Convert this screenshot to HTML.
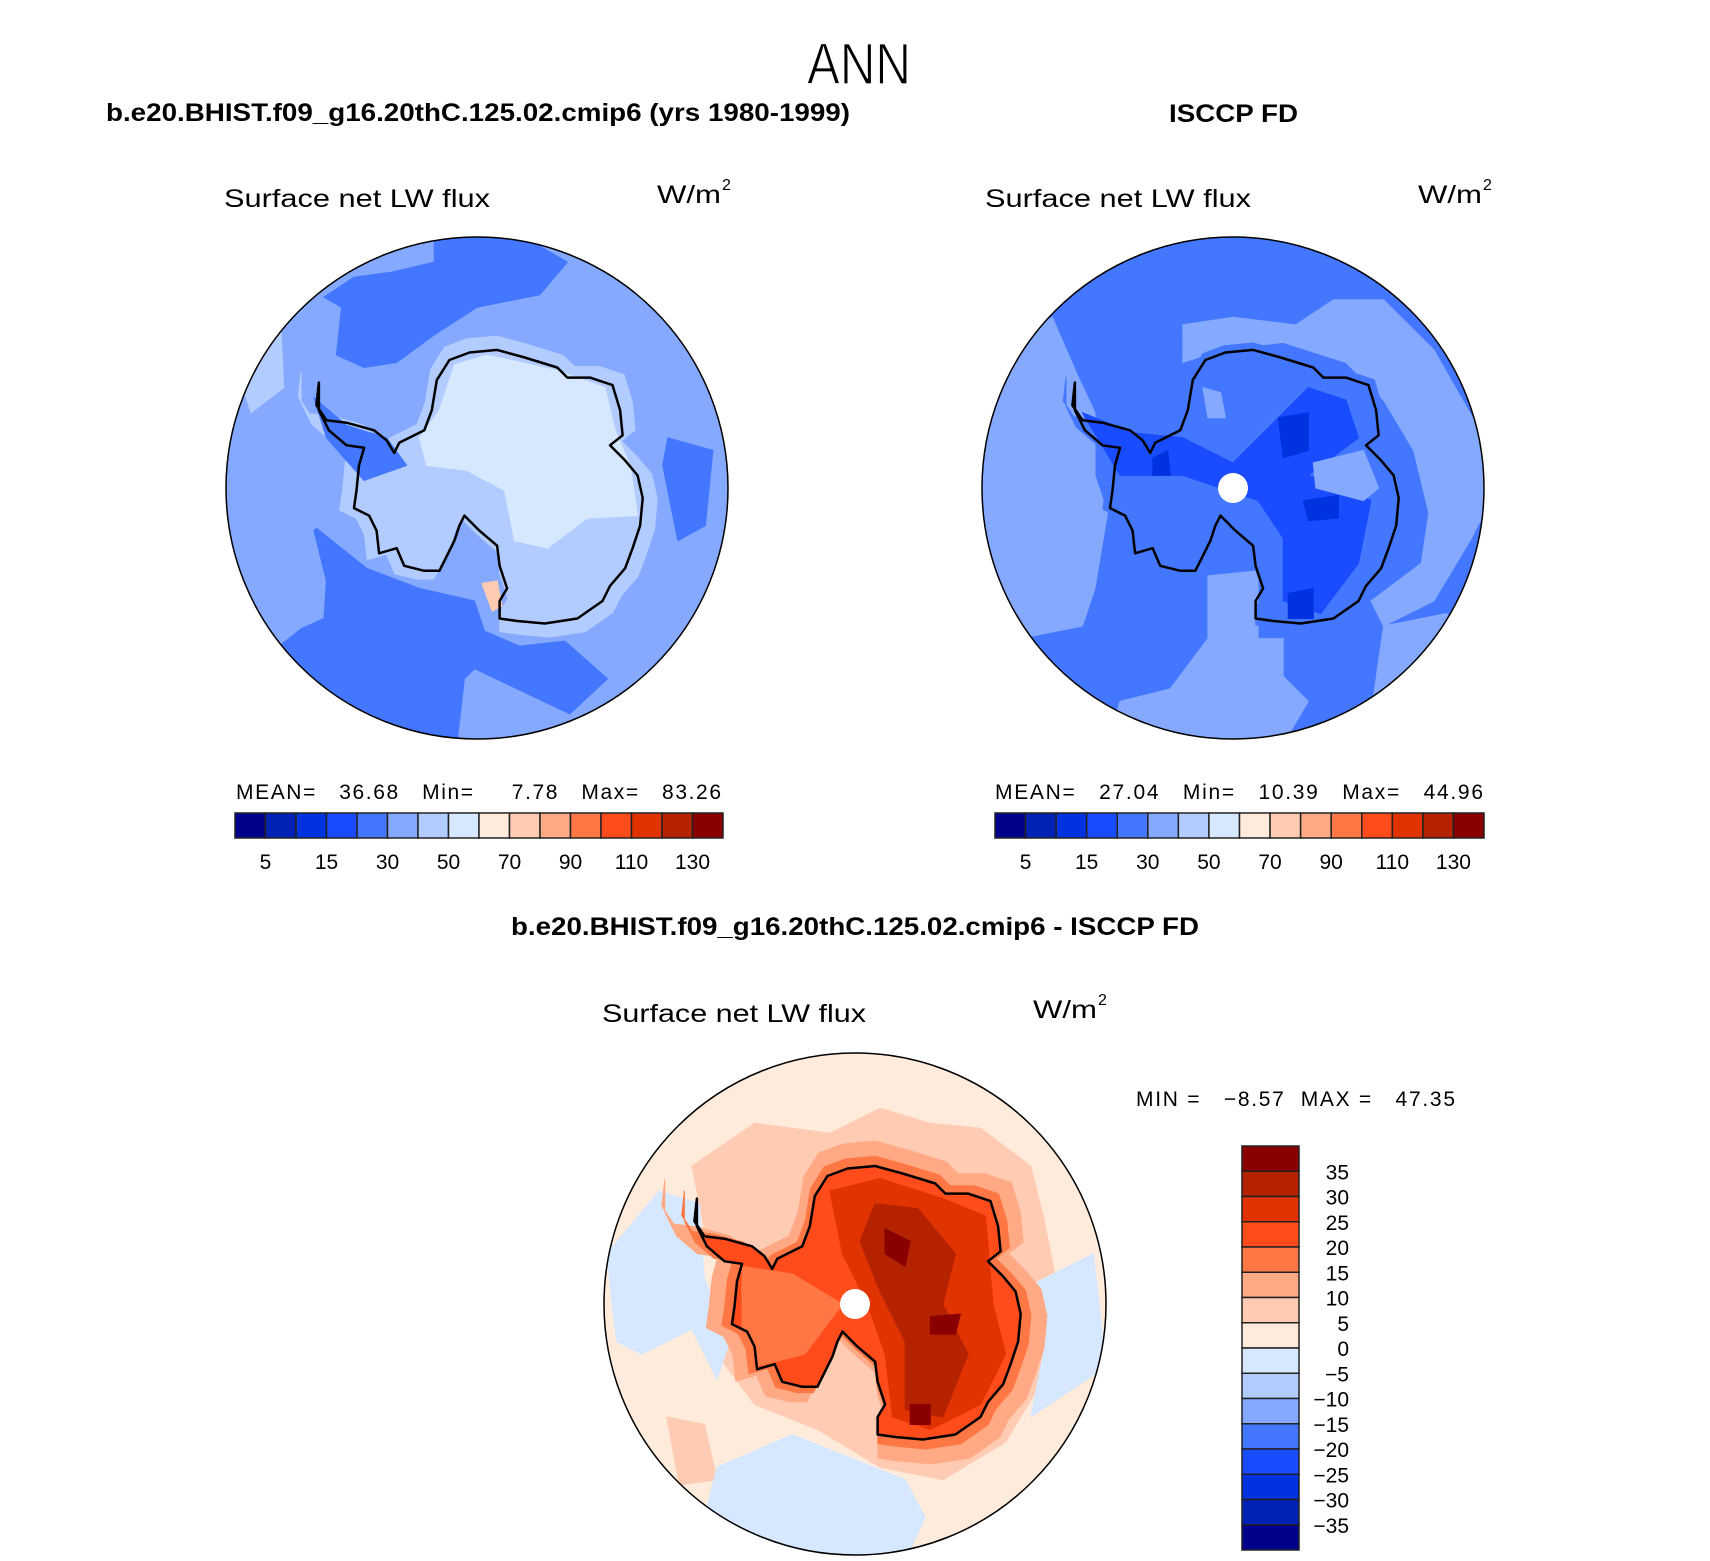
<!DOCTYPE html>
<html><head><meta charset="utf-8"><title>ANN Surface net LW flux</title>
<style>
html,body{margin:0;padding:0;background:#fff;}
svg{display:block;}
text{font-family:"Liberation Sans",sans-serif;fill:#000;}
</style></head>
<body>
<svg id="fig" width="1710" height="1561" viewBox="0 0 1710 1561" xmlns="http://www.w3.org/2000/svg">
<text x="859" y="84" text-anchor="middle" font-size="58" textLength="104" lengthAdjust="spacingAndGlyphs" style="font-weight:100" stroke="#fff" stroke-width="1.2">ANN</text>
<text x="106" y="121" font-size="25" font-weight="bold" textLength="744" lengthAdjust="spacingAndGlyphs">b.e20.BHIST.f09_g16.20thC.125.02.cmip6 (yrs 1980-1999)</text>
<text x="1169" y="122" font-size="25" font-weight="bold" textLength="129" lengthAdjust="spacingAndGlyphs">ISCCP FD</text>
<text x="511" y="935" font-size="25" font-weight="bold" textLength="688" lengthAdjust="spacingAndGlyphs">b.e20.BHIST.f09_g16.20thC.125.02.cmip6 - ISCCP FD</text>

<text x="224" y="207" font-size="25" textLength="266" lengthAdjust="spacingAndGlyphs">Surface net LW flux</text>
<text x="657" y="203" font-size="25" textLength="64" lengthAdjust="spacingAndGlyphs">W/m</text>
<text x="722" y="190" font-size="16">2</text>
<text x="985" y="207" font-size="25" textLength="266" lengthAdjust="spacingAndGlyphs">Surface net LW flux</text>
<text x="1418" y="203" font-size="25" textLength="64" lengthAdjust="spacingAndGlyphs">W/m</text>
<text x="1483" y="190" font-size="16">2</text>
<text x="602" y="1022" font-size="25" textLength="264" lengthAdjust="spacingAndGlyphs">Surface net LW flux</text>
<text x="1033" y="1018" font-size="25" textLength="64" lengthAdjust="spacingAndGlyphs">W/m</text>
<text x="1098" y="1005" font-size="16">2</text>

<text x="236" y="799" font-size="21" textLength="485" lengthAdjust="spacing" xml:space="preserve">MEAN=   36.68   Min=     7.78   Max=   83.26</text>
<text x="995" y="799" font-size="21" textLength="488" lengthAdjust="spacing" xml:space="preserve">MEAN=   27.04   Min=   10.39   Max=   44.96</text>
<text x="1136" y="1106" font-size="21" textLength="319" lengthAdjust="spacing" xml:space="preserve">MIN =   −8.57  MAX =   47.35</text>
<g id="maps"></g>
<g id="bars"></g>
</svg>
<script>
// colorbar data
const absLevels = [5,10,15,20,30,40,50,60,70,80,90,100,110,120,130];
const absLabels = [5,15,30,50,70,90,110,130];
const diffLevels = [35,30,25,20,15,10,5,0,-5,-10,-15,-20,-25,-30,-35];
const palette = ["#00008a","#0022b4","#0033e0","#1a4cff","#4477ff","#84a9ff","#b3ccff","#d6e8ff","#ffebdb","#ffcbb3","#ffaa84","#ff7744","#ff4c1a","#e03300","#b42200","#8a0000"];

// coastline (normalized polar-stereo coords, unit radius)
const coast = [[-0.63,-0.42],[-0.64,-0.33],[-0.60,-0.27],[-0.52,-0.26],[-0.41,-0.23],[-0.36,-0.19],[-0.33,-0.14],[-0.31,-0.18],[-0.21,-0.23],[-0.18,-0.31],[-0.16,-0.43],[-0.11,-0.51],[-0.03,-0.54],[0.08,-0.55],[0.19,-0.52],[0.32,-0.48],[0.36,-0.44],[0.45,-0.44],[0.54,-0.41],[0.57,-0.31],[0.58,-0.21],[0.53,-0.17],[0.59,-0.11],[0.64,-0.05],[0.66,0.04],[0.65,0.15],[0.62,0.24],[0.59,0.32],[0.53,0.39],[0.50,0.45],[0.40,0.52],[0.27,0.54],[0.16,0.53],[0.09,0.52],[0.09,0.45],[0.12,0.40],[0.09,0.31],[0.08,0.23],[0.01,0.17],[-0.05,0.11],[-0.07,0.15],[-0.09,0.21],[-0.13,0.29],[-0.15,0.33],[-0.21,0.33],[-0.29,0.31],[-0.32,0.24],[-0.39,0.26],[-0.40,0.17],[-0.43,0.11],[-0.49,0.08],[-0.48,0.01],[-0.47,-0.09],[-0.45,-0.16],[-0.52,-0.17],[-0.59,-0.23],[-0.63,-0.31]];

const NS="http://www.w3.org/2000/svg";
const maps=document.getElementById('maps');
const bars=document.getElementById('bars');
function el(tag,attrs,parent){const e=document.createElementNS(NS,tag);for(const k in attrs)e.setAttribute(k,attrs[k]);(parent||maps).appendChild(e);return e;}
function scaled(pts,s,cx,cy){return pts.map(p=>[cx+(p[0]-cx)*s,cy+(p[1]-cy)*s]);}
function ptsStr(pts,m){return pts.map(p=>(m.cx+p[0]*m.r).toFixed(1)+','+(m.cy+p[1]*m.r).toFixed(1)).join(' ');}

const mapDefs=[
 {id:'model',cx:477,cy:488,r:251,bg:"#84a9ff",pole:false,layers:[
  ["#4477ff",[[-0.61,-0.76],[-0.54,-0.72],[-0.56,-0.53],[-0.45,-0.48],[-0.32,-0.50],[-0.17,-0.61],[0,-0.72],[0.25,-0.77],[0.36,-0.90],[0.1,-1.05],[-0.17,-1.0],[-0.17,-0.9],[-0.34,-0.86],[-0.49,-0.84]]],
  ["#4477ff",[[-0.64,0.16],[-0.44,0.32],[-0.23,0.40],[-0.01,0.45],[0.03,0.57],[0.17,0.63],[0.35,0.61],[0.52,0.76],[0.37,0.90],[-0.01,0.72],[-0.05,0.76],[-0.08,1.02],[-0.49,0.92],[-0.8,0.64],[-0.70,0.56],[-0.61,0.52],[-0.60,0.37],[-0.65,0.17]]],
  ["#4477ff",[[0.76,-0.20],[0.94,-0.15],[0.91,0.15],[0.80,0.21],[0.74,-0.09]]],
  ["#b3ccff",[[-0.78,-0.62],[-0.77,-0.4],[-0.9,-0.3],[-0.95,-0.45]]],
  ["#b3ccff","ring",1.1],
  ["#4477ff",[[-0.65,-0.36],[-0.52,-0.25],[-0.36,-0.2],[-0.28,-0.09],[-0.45,-0.03],[-0.6,-0.2]]],
  ["#d6e8ff",[[-0.15,-0.31],[-0.09,-0.49],[0.04,-0.53],[0.31,-0.47],[0.51,-0.40],[0.55,-0.23],[0.61,-0.09],[0.64,0.11],[0.44,0.12],[0.28,0.24],[0.15,0.21],[0.11,0.01],[-0.04,-0.07],[-0.2,-0.09],[-0.23,-0.2]]],
  ["#ffcbb3",[[0.02,0.38],[0.08,0.37],[0.1,0.47],[0.06,0.49]]]
 ]},
 {id:'obs',cx:1233,cy:488,r:251,bg:"#4477ff",pole:true,layers:[
  ["#84a9ff",[[-0.95,-0.55],[-0.72,-0.68],[-0.62,-0.45],[-0.55,-0.3],[-0.55,-0.05],[-0.5,0.1],[-0.55,0.4],[-0.6,0.55],[-0.85,0.6],[-1,0.3],[-1,-0.3]]],
  ["#84a9ff",[[-0.1,0.35],[0.1,0.33],[0.1,0.6],[0.2,0.6],[0.2,0.75],[0.3,0.85],[0.2,1.02],[-0.5,1.02],[-0.45,0.85],[-0.25,0.8],[-0.1,0.6]]],
  ["#84a9ff",[[-0.2,-0.65],[0,-0.68],[0.25,-0.65],[0.4,-0.75],[0.6,-0.75],[0.8,-0.55],[1,-0.2],[1,0.1],[0.95,0.2],[0.8,0.45],[0.6,0.55],[0.55,0.45],[0.75,0.3],[0.78,0.1],[0.72,-0.15],[0.6,-0.35],[0.45,-0.5],[0.2,-0.58],[-0.05,-0.55],[-0.2,-0.5]]],
  ["#84a9ff",[[0.6,0.55],[0.85,0.5],[0.9,0.55],[0.7,0.85],[0.55,0.9]]],
  ["#4477ff","ring",1.05],
  ["#1a4cff",[[-0.6,-0.3],[-0.4,-0.22],[-0.2,-0.2],[0,-0.1],[0.2,-0.3],[0.3,-0.4],[0.45,-0.35],[0.5,-0.2],[0.3,-0.05],[0.55,0.05],[0.5,0.3],[0.35,0.5],[0.2,0.45],[0.2,0.2],[0.1,0.05],[-0.2,-0.05],[-0.45,-0.05]]],
  ["#0033e0",[[0.18,-0.28],[0.3,-0.3],[0.3,-0.15],[0.2,-0.12]]],
  ["#0033e0",[[0.28,0.05],[0.42,0.03],[0.42,0.12],[0.3,0.13]]],
  ["#0033e0",[[0.22,0.42],[0.32,0.4],[0.32,0.52],[0.22,0.52]]],
  ["#0033e0",[[-0.32,-0.12],[-0.26,-0.15],[-0.25,-0.05],[-0.32,-0.05]]],
  ["#84a9ff",[[0.32,-0.1],[0.52,-0.15],[0.58,0.0],[0.52,0.05],[0.33,0.0]]],
  ["#84a9ff",[[-0.12,-0.4],[-0.05,-0.38],[-0.03,-0.28],[-0.1,-0.28]]]
 ]},
 {id:'diff',cx:855,cy:1304,r:251,bg:"#ffebdb",pole:true,layers:[
  ["#ffcbb3",[[-0.65,-0.55],[-0.4,-0.72],[-0.1,-0.68],[0.1,-0.78],[0.3,-0.72],[0.5,-0.7],[0.7,-0.55],[0.75,-0.35],[0.8,-0.1],[0.75,0.3],[0.6,0.55],[0.35,0.7],[0.1,0.65],[-0.15,0.5],[-0.4,0.4],[-0.55,0.2],[-0.5,-0.1],[-0.6,-0.3]]],
  ["#ffcbb3",[[-0.75,0.45],[-0.6,0.48],[-0.55,0.7],[-0.7,0.72]]],
  ["#d6e8ff",[[-0.99,-0.2],[-0.78,-0.45],[-0.62,-0.4],[-0.6,-0.1],[-0.5,0.15],[-0.55,0.3],[-0.65,0.1],[-0.85,0.2],[-0.95,0.15]]],
  ["#d6e8ff",[[-0.55,0.65],[-0.25,0.52],[0,0.62],[0.2,0.7],[0.28,0.85],[0.2,1.02],[-0.35,1.02],[-0.6,0.85]]],
  ["#d6e8ff",[[0.65,-0.05],[0.95,-0.2],[1,0.25],[0.85,0.35],[0.7,0.45],[0.75,0.2]]],
  ["#ffaa84","ring",1.18],
  ["#ff7744","ring",1.07],
  ["#ff4c1a","ring",1.0],
  ["#ff7744",[[-0.45,-0.15],[-0.25,-0.12],[-0.05,0.0],[-0.2,0.2],[-0.4,0.25],[-0.45,0.1]]],
  ["#e03300",[[-0.1,-0.45],[0.1,-0.5],[0.35,-0.42],[0.52,-0.35],[0.55,0.0],[0.6,0.2],[0.5,0.4],[0.3,0.5],[0.15,0.45],[0.12,0.2],[0.05,0.0],[-0.05,-0.2]]],
  ["#b42200",[[0.08,-0.4],[0.25,-0.38],[0.4,-0.2],[0.35,0.0],[0.45,0.2],[0.35,0.45],[0.2,0.42],[0.2,0.15],[0.1,-0.05],[0.02,-0.25]]],
  ["#8a0000",[[0.12,-0.3],[0.22,-0.25],[0.2,-0.15],[0.12,-0.2]]],
  ["#8a0000",[[0.3,0.05],[0.42,0.04],[0.4,0.12],[0.3,0.12]]],
  ["#8a0000",[[0.22,0.4],[0.3,0.4],[0.3,0.48],[0.22,0.48]]]
 ]}
];

mapDefs.forEach(m=>{
  const clip=el('clipPath',{id:'clip-'+m.id});
  el('circle',{cx:m.cx,cy:m.cy,r:m.r},clip);
  const g=el('g',{'clip-path':'url(#clip-'+m.id+')'});
  
  
  const bgc=el('circle',{cx:m.cx,cy:m.cy,r:m.r,fill:m.bg},g);
  
  
  m.layers.forEach((L,i)=>{
    const pts = L[1]==='ring' ? scaled(coast,L[2],0.08,0.0) : L[1];
    const p=el('polygon',{points:ptsStr(pts,m),fill:L[0],'stroke':L[0],'stroke-width':1,'stroke-linejoin':'round'},g);
    
    
  });
  const c=el('polygon',{points:ptsStr(coast,m),fill:'none',stroke:'#000','stroke-width':2.5,'stroke-linejoin':'round'},g);
  
  
  if(m.pole){
    const d=el('circle',{cx:m.cx,cy:m.cy,r:15,fill:'#fff'},g);
    
    
  }
  const b=el('circle',{cx:m.cx,cy:m.cy,r:m.r,fill:'none',stroke:'#000','stroke-width':1.5});
  
  
});

// horizontal colorbars
function hbar(x0,x1,y0,y1,name){
  const n=palette.length, w=(x1-x0)/n;
  palette.forEach((col,i)=>{
    const r=el('rect',{x:x0+i*w,y:y0,width:w,height:y1-y0,fill:col,stroke:'#222','stroke-width':1.5},bars);
    
    
  });
  absLevels.forEach((v,i)=>{
    if(absLabels.indexOf(v)<0) return;
    const t=el('text',{x:x0+(i+1)*w,y:y1+31,'text-anchor':'middle','font-size':21},bars);
    t.textContent=v;
    
    
  });
}
hbar(235,723,813,838,'model-colorbar');
hbar(995,1484,813,838,'obs-colorbar');

// vertical diff colorbar
(function(){
  const x0=1242,x1=1299,y0=1146,y1=1550,n=palette.length,h=(y1-y0)/n;
  palette.slice().reverse().forEach((col,i)=>{
    const r=el('rect',{x:x0,y:y0+i*h,width:x1-x0,height:h,fill:col,stroke:'#222','stroke-width':1.5},bars);
    
    
  });
  diffLevels.forEach((v,i)=>{
    const t=el('text',{x:1349,y:y0+(i+1)*h+8,'text-anchor':'end','font-size':21},bars);
    t.textContent=(v<0?'−'+(-v):String(v));
    
    
  });
})();
</script>
</body></html>
